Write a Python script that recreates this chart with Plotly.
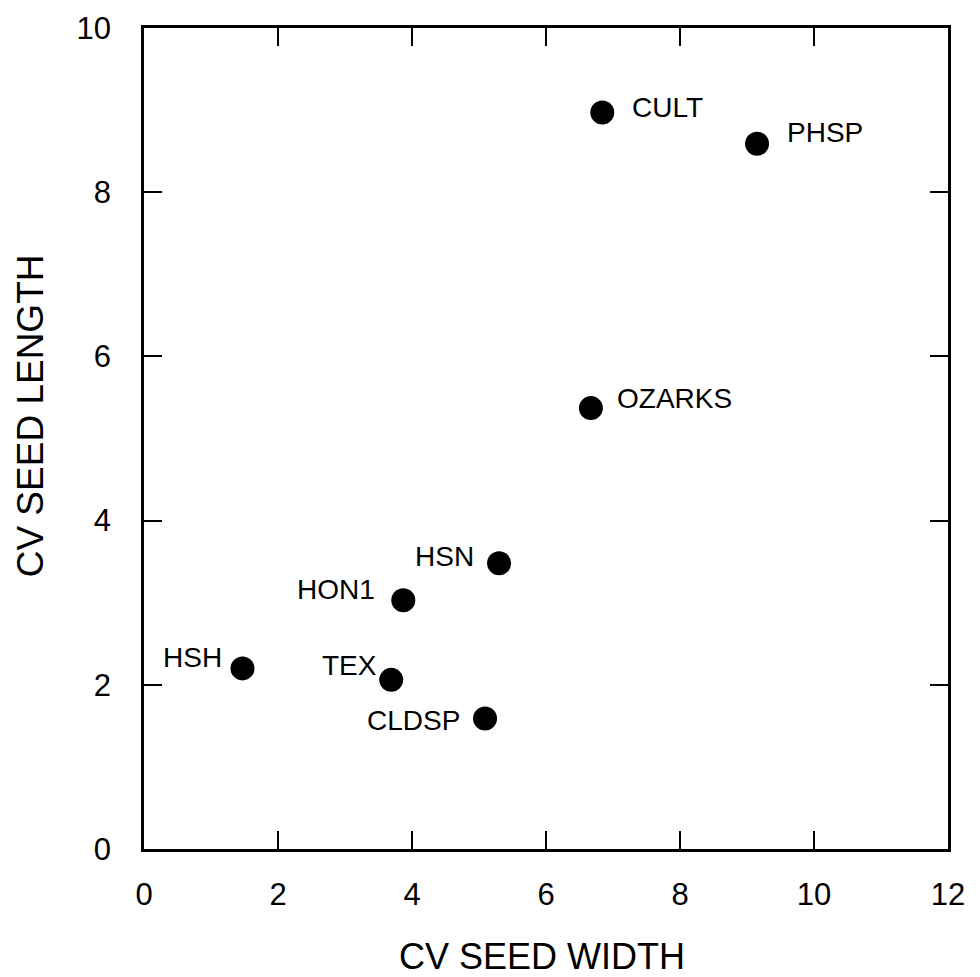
import plotly.graph_objects as go

names = ["CULT", "PHSP", "OZARKS", "HSN", "HON1", "HSH", "TEX", "CLDSP"]
cv_width = [6.84, 9.15, 6.67, 5.30, 3.87, 1.47, 3.69, 5.09]
cv_length = [8.97, 8.59, 5.37, 3.48, 3.03, 2.20, 2.06, 1.59]
x_ticks = [0, 2, 4, 6, 8, 10, 12]
y_ticks = [0, 2, 4, 6, 8, 10]
x_title = "CV SEED WIDTH"
y_title = "CV SEED LENGTH"

# label placement (anchor side, pixel offsets)
label_side = ["left", "left", "left", "right", "right", "right", "right", "right"]
label_dx = [28, 28, 24, -23, -26, -18, -12, -23]
label_dy = [5, 11, 10, 7, 11, 11, 14, -2]

FONT = "Liberation Sans, Arial, Helvetica, sans-serif"

fig = go.Figure()
fig.add_trace(go.Scatter(
    x=cv_width, y=cv_length, mode="markers",
    marker=dict(color="black", size=24, line=dict(width=0)),
    showlegend=False, hoverinfo="text", text=names,
))

for n, xv, yv, side, dx, dy in zip(names, cv_width, cv_length, label_side, label_dx, label_dy):
    fig.add_annotation(
        x=xv, y=yv, xref="x", yref="y", text=n, showarrow=False,
        xanchor=side, yanchor="middle", xshift=dx, yshift=dy,
        font=dict(family=FONT, size=28, color="black"),
    )

# axis titles
fig.add_annotation(
    x=0.495, y=0, xref="paper", yref="paper", text=x_title, showarrow=False,
    xanchor="center", yanchor="top", yshift=-86, borderpad=0,
    font=dict(family=FONT, size=36, color="black"),
)
fig.add_annotation(
    x=0, y=0.527, xref="paper", yref="paper", text=y_title, showarrow=False,
    xanchor="center", yanchor="middle", xshift=-114, textangle=-90,
    font=dict(family=FONT, size=37, color="black"),
)

axis_common = dict(
    showgrid=False, zeroline=False, showline=True, linecolor="black", linewidth=2.5,
    mirror="ticks", ticks="inside", ticklen=18, tickwidth=2, tickcolor="black",
    tickfont=dict(family=FONT, size=31, color="black"),
)

fig.update_xaxes(
    range=[0, 12], tickvals=x_ticks, ticktext=[str(v) for v in x_ticks],
    ticklabelstandoff=16,
    **axis_common,
)
fig.update_yaxes(
    range=[0, 10], tickvals=y_ticks, ticktext=[str(v) for v in y_ticks],
    ticklabelstandoff=24,
    **axis_common,
)

fig.update_layout(
    width=980, height=977,
    margin=dict(l=144, r=32, t=28, b=128, autoexpand=False),
    paper_bgcolor="white", plot_bgcolor="white",
    font=dict(family=FONT, color="black"),
)

fig.write_html("out.html")
